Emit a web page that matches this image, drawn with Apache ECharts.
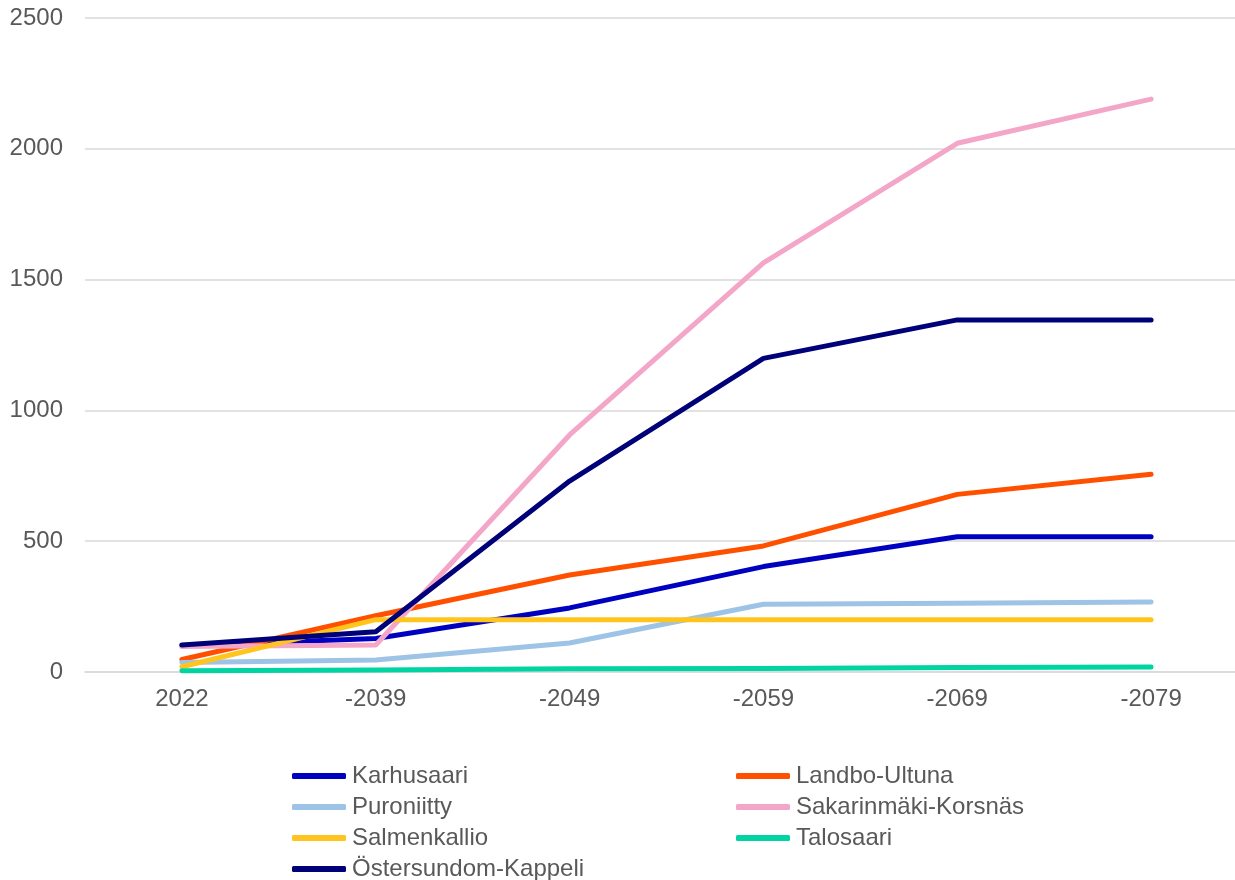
<!DOCTYPE html>
<html>
<head>
<meta charset="utf-8">
<script src="https://cdn.jsdelivr.net/npm/echarts@6/dist/echarts.min.js"></script>
<style>
  html, body { margin: 0; padding: 0; background: #fff; overflow: hidden; }
  /* plot runs a little past the right edge of the picture, as in the original */
  #chart { width: 1248px; height: 880px; }
</style>
</head>
<body>
<div id="chart"></div>
<script>
const categories = ['2022', '-2039', '-2049', '-2059', '-2069', '-2079']
const yTicks = [0, 500, 1000, 1500, 2000, 2500]

const karhusaari = [100, 128, 245, 403, 517, 517]
const landboUltuna = [48, 215, 371, 482, 679, 756]
const puroniitty = [36, 46, 111, 259, 263, 268]
const sakarinmaki = [97, 103, 906, 1564, 2021, 2190]
const salmenkallio = [20, 200, 200, 200, 200, 200]
const talosaari = [5, 8, 12, 13, 17, 19]
const ostersundom = [103, 154, 730, 1199, 1346, 1346]

const seriesDefs = [
  { name: 'Karhusaari', data: karhusaari, color: '#0000C0' },
  { name: 'Landbo-Ultuna', data: landboUltuna, color: '#FF5000' },
  { name: 'Puroniitty', data: puroniitty, color: '#9DC3E6' },
  { name: 'Sakarinmäki-Korsnäs', data: sakarinmaki, color: '#F4A6C8' },
  { name: 'Salmenkallio', data: salmenkallio, color: '#FFC41E' },
  { name: 'Talosaari', data: talosaari, color: '#00D4A2' },
  { name: 'Östersundom-Kappeli', data: ostersundom, color: '#000078' }
]

const font = '"Liberation Sans", Arial, sans-serif'
const textColor = '#595959'

// legend in two columns, like the original
const legendBase = {
  orient: 'vertical',
  top: 764,
  padding: 0,
  height: 160,
  icon: 'roundRect',
  itemWidth: 54,
  itemHeight: 6,
  itemGap: 7,
  textStyle: { fontFamily: font, fontSize: 24, color: textColor, padding: [0, 0, 0, 1] }
}

const chart = echarts.init(document.getElementById('chart'))
chart.setOption({
  animation: false,
  backgroundColor: '#fff',
  textStyle: { fontFamily: font },
  grid: { left: 85, top: 18, right: 0, height: 654, containLabel: false },
  legend: [
    Object.assign({}, legendBase, { left: 292, data: ['Karhusaari', 'Puroniitty', 'Salmenkallio', 'Östersundom-Kappeli'] }),
    Object.assign({}, legendBase, { left: 736, data: ['Landbo-Ultuna', 'Sakarinmäki-Korsnäs', 'Talosaari'] })
  ],
  xAxis: {
    type: 'category',
    data: categories,
    boundaryGap: true,
    axisLine: { show: true, lineStyle: { color: '#D9D9D9', width: 1.5 } },
    axisTick: { show: false },
    axisLabel: { margin: 15, fontSize: 24, color: textColor, fontFamily: font }
  },
  yAxis: {
    type: 'value',
    min: yTicks[0],
    max: yTicks[yTicks.length - 1],
    interval: 500,
    axisLine: { show: false },
    axisTick: { show: false },
    splitLine: { lineStyle: { color: '#D9D9D9', width: 1.5 } },
    axisLabel: { margin: 22, fontSize: 24, color: textColor, fontFamily: font, formatter: v => String(v) }
  },
  series: seriesDefs.map(s => ({
    name: s.name,
    type: 'line',
    data: s.data,
    symbol: 'none',
    color: s.color,
    lineStyle: { width: 5, color: s.color, cap: 'round', join: 'round' }
  }))
})
</script>
</body>
</html>
